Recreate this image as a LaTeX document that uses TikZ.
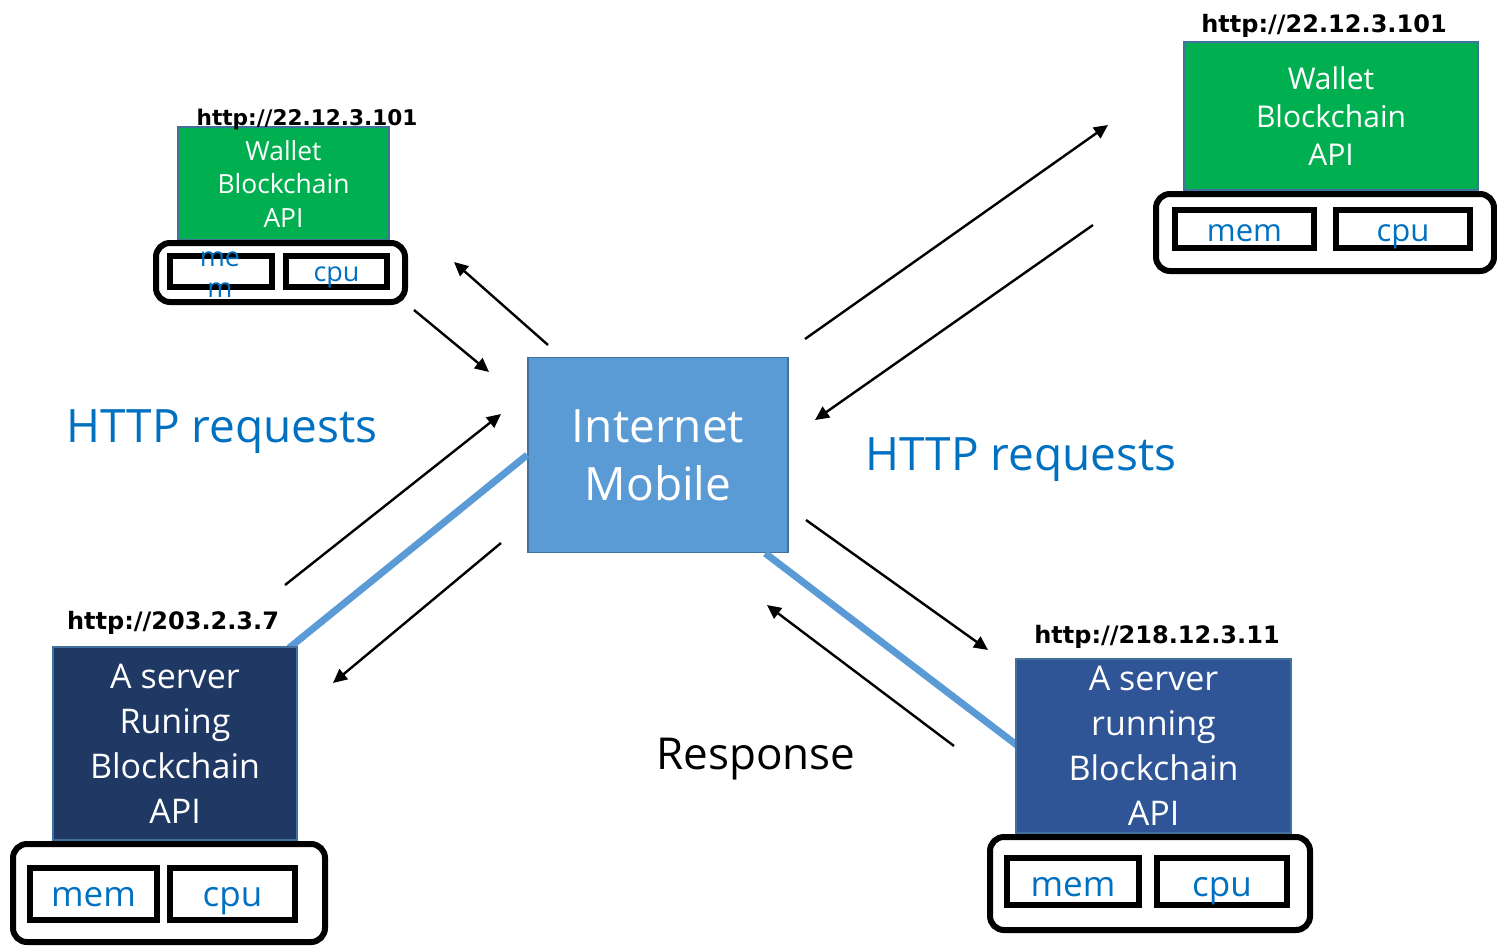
\documentclass[tikz,border=0pt]{standalone}
\usepackage{fontspec}
\setmainfont{Open Sans}
\newfontfamily\urlfont{DejaVu Sans}
\usetikzlibrary{arrows.meta,calc}
\definecolor{inetblue}{HTML}{5B9BD5}
\definecolor{edgeblue}{HTML}{41719C}
\definecolor{wgreen}{HTML}{00B050}
\definecolor{navyA}{HTML}{203864}
\definecolor{navyB}{HTML}{2F5597}
\definecolor{txtblue}{HTML}{0070C0}
\tikzset{
  svc/.style={draw=edgeblue, line width=0.8pt, text=white, align=center, inner sep=0pt},
  hwout/.style={draw=black, line width=3pt, rounded corners=7pt, inner sep=0pt},
  hwin/.style={draw=black, line width=3pt, inner sep=0pt, text=txtblue, text depth=0pt},
  urllabel/.style={font=\urlfont\bfseries\fontsize{12}{14}\selectfont, anchor=base},
  msg/.style={anchor=base west, inner sep=0pt, font=\fontsize{23}{28}\selectfont},
  arr/.style={-{Triangle[length=7pt,width=6.5pt]}, line width=1.2pt},
  link/.style={draw=inetblue, line width=3.5pt}
}
\begin{document}
\begin{tikzpicture}[x=0.5pt,y=-0.5pt]
\useasboundingbox (0,0) rectangle (1497,947);

% central node
\node[svc, fill=inetblue, minimum width=130pt, minimum height=97.5pt,
      font=\fontsize{23}{29}\selectfont] (inet) at (658,455) {Internet\\Mobile};

% links (under the server boxes)
\coordinate (linkAend) at (289,648);
\draw[link] (inet.west) -- (linkAend);
\coordinate (linkBstart) at ($(inet.south west)!0.91!(inet.south east)$);
\coordinate (linkBend) at (1018,746);
\draw[link] (linkBstart) -- (linkBend);

% top-left wallet
\node[svc, fill=wgreen, minimum width=105.5pt, minimum height=56.5pt,
      font=\fontsize{13.2}{16.75}\selectfont] (walA) at (283.5,183.5) {Wallet\\Blockchain\\API};
\node[urllabel, font=\urlfont\bfseries\fontsize{10.8}{13}\selectfont] (urlA) at (307,126) {http://22.12.3.101};
\node[hwout, minimum width=124.5pt, minimum height=29.5pt] (hwA) at (280.5,272.5) {};
\node[hwin, minimum width=51pt, minimum height=15.5pt] (memA) at (221,271.5) {};
\node[hwin, minimum width=50.5pt, minimum height=15.5pt, text height=10pt, font=\fontsize{13.5}{15.5}\selectfont] (cpuA) at (336.5,271.5) {cpu};
\node[text=txtblue, align=center, inner sep=0pt, font=\fontsize{13.5}{15.5}\selectfont] (memAt) at (220,274.5) {me\\m};

% top-right wallet
\node[svc, fill=wgreen, minimum width=147pt, minimum height=74pt,
      font=\fontsize{15}{19}\selectfont] (walB) at (1331,116) {Wallet\\Blockchain\\API};
\node[urllabel] (urlB) at (1324,33) {http://22.12.3.101};
\node[hwout, minimum width=169pt, minimum height=38.5pt] (hwB) at (1325,232.5) {};
\node[hwin, minimum width=69.5pt, minimum height=19pt, text height=12.5pt, font=\fontsize{15.5}{18}\selectfont] (memB) at (1244.5,229) {mem};
\node[hwin, minimum width=67pt, minimum height=19pt, text height=12.5pt, font=\fontsize{15.5}{18}\selectfont] (cpuB) at (1403,229) {cpu};

% bottom-left server
\node[svc, fill=navyA, minimum width=122pt, minimum height=96.5pt,
      font=\fontsize{17}{22.5}\selectfont] (srvA) at (175,743.5) {A server\\Runing\\Blockchain\\API};
\node[urllabel] (urlC) at (173,629) {http://203.2.3.7};
\node[hwout, minimum width=156pt, minimum height=49pt] (hwC) at (169,893) {};
\node[hwin, minimum width=63.5pt, minimum height=26pt, text height=12.5pt, font=\fontsize{17.5}{20}\selectfont] (memC) at (93.5,894) {mem};
\node[hwin, minimum width=62.5pt, minimum height=26pt, text height=12.5pt, font=\fontsize{17.5}{20}\selectfont] (cpuC) at (232.5,894) {cpu};

% bottom-right server
\node[svc, fill=navyB, minimum width=137.5pt, minimum height=87pt,
      font=\fontsize{17}{22.5}\selectfont] (srvB) at (1153.5,746) {A server\\running\\Blockchain\\API};
\node[urllabel] (urlD) at (1157,643) {http://218.12.3.11};
\node[hwout, minimum width=160pt, minimum height=46.5pt] (hwD) at (1150,883.5) {};
\node[hwin, minimum width=66pt, minimum height=23.5pt, text height=15pt, font=\fontsize{17.5}{20}\selectfont] (memD) at (1073,881.5) {mem};
\node[hwin, minimum width=65pt, minimum height=23.5pt, text height=15pt, font=\fontsize{17.5}{20}\selectfont] (cpuD) at (1222,881.5) {cpu};

% message labels
\node[msg, text=txtblue] (httpL) at (66,442) {HTTP requests};
\node[msg, text=txtblue] (httpR) at (865,470) {HTTP requests};
\node[msg, font=\fontsize{22}{26}\selectfont] (resp) at (656,769) {Response};

% arrows
\coordinate (a1s) at (548,345); \coordinate (a1e) at (454,262);
\coordinate (a2s) at (414,310); \coordinate (a2e) at (489,372);
\coordinate (a3s) at (285,585); \coordinate (a3e) at (501,414);
\coordinate (a4s) at (501,543); \coordinate (a4e) at (333,683);
\coordinate (a5s) at (805,339); \coordinate (a5e) at (1108,125);
\coordinate (a6s) at (1093,225); \coordinate (a6e) at (815,420);
\coordinate (a7s) at (806,520); \coordinate (a7e) at (988,650);
\coordinate (a8s) at (954,746); \coordinate (a8e) at (767,605);
\draw[arr] (a1s) -- (a1e);
\draw[arr] (a2s) -- (a2e);
\draw[arr] (a3s) -- (a3e);
\draw[arr] (a4s) -- (a4e);
\draw[arr] (a5s) -- (a5e);
\draw[arr] (a6s) -- (a6e);
\draw[arr] (a7s) -- (a7e);
\draw[arr] (a8s) -- (a8e);
\end{tikzpicture}
\end{document}
